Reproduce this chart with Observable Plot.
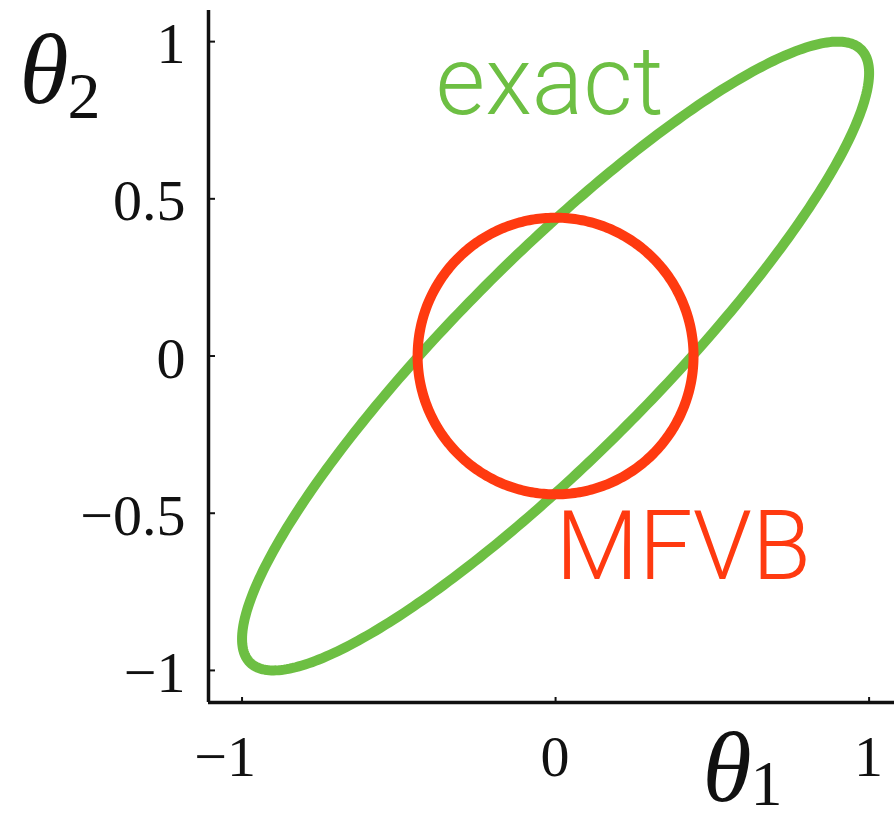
<!DOCTYPE html>
<html>
<head>
<meta charset="utf-8">
<script src="https://cdn.jsdelivr.net/npm/d3@7"></script>
<script src="https://cdn.jsdelivr.net/npm/@observablehq/plot@0.6"></script>
<style>
  body { margin: 0; background: #fff; }
</style>
</head>
<body>
<div id="chart"></div>
<script>
// Exact bivariate Gaussian posterior vs. its mean-field variational (MFVB) fit,
// each drawn as its one-standard-deviation contour.
const exactMean = [0, 0];
const exactCov = [[1, 0.9], [0.9, 1]];
const mfvbMean = [0, 0];
const mfvbSd = [0.44, 0.44];

const seriesNames = ["exact", "MFVB"];
const seriesColors = ["#6dbf43", "#ff3a10"];
const labelX = [-0.383, 0.0];
const labelY = [0.866, -0.612];

const xTicks = [-1, 0, 1];
const yTicks = [-1, -0.5, 0, 0.5, 1];
const xDomain = [-1.107, 1.081];
const yDomain = [-1.102, 1.099];

// Contour outline of a Gaussian with the given mean and covariance (via Cholesky factor).
function gaussianOutline(mean, cov, steps = 360) {
  const l11 = Math.sqrt(cov[0][0]);
  const l21 = cov[1][0] / l11;
  const l22 = Math.sqrt(cov[1][1] - l21 * l21);
  return d3.range(steps).map(i => {
    const t = (2 * Math.PI * i) / steps;
    const u = Math.cos(t), v = Math.sin(t);
    return {x: mean[0] + l11 * u, y: mean[1] + l21 * u + l22 * v};
  });
}

const exactOutline = gaussianOutline(exactMean, exactCov);
const mfvbOutline = gaussianOutline(mfvbMean, [[mfvbSd[0] ** 2, 0], [0, mfvbSd[1] ** 2]]);

const labels = seriesNames.map((name, i) => ({name, x: labelX[i], y: labelY[i], color: seriesColors[i]}));

const fmt = d => (d < 0 ? "\u2212" + Math.abs(d) : String(d));
const serif = "'Liberation Serif', 'Times New Roman', serif";
const sans = "Roboto, 'Helvetica Neue', Helvetica, Arial, sans-serif";

const width = 894, height = 821;
const margin = {top: 10, right: 0, bottom: 119, left: 208};
const frameW = width - margin.left - margin.right;
const frameH = height - margin.top - margin.bottom;

const chart = Plot.plot({
  width, height,
  marginTop: margin.top, marginRight: margin.right,
  marginBottom: margin.bottom, marginLeft: margin.left,
  x: {domain: xDomain, axis: null},
  y: {domain: yDomain, axis: null},
  marks: [
    // axis lines (left and bottom only)
    Plot.ruleX([xDomain[0]], {stroke: "#111", strokeWidth: 3.5}),
    Plot.ruleY([yDomain[0]], {stroke: "#111", strokeWidth: 3.5}),
    // short inward ticks
    Plot.ruleX(xTicks, {stroke: "#111", strokeWidth: 2, insetTop: frameH - 5}),
    Plot.ruleY(yTicks, {stroke: "#111", strokeWidth: 2, insetRight: frameW - 7}),
    // tick labels
    Plot.text(xTicks, {
      x: d => d, frameAnchor: "bottom", lineAnchor: "middle", text: fmt,
      textAnchor: "end", dx: 14, dy: 55,
      fontSize: 58, fontFamily: serif, fill: "#111"
    }),
    Plot.text(yTicks, {
      y: d => d, frameAnchor: "left", lineAnchor: "middle", text: fmt,
      textAnchor: "end", dx: -23, dy: 3,
      fontSize: 58, fontFamily: serif, fill: "#111"
    }),
    // contours
    Plot.line(exactOutline, {x: "x", y: "y", stroke: seriesColors[0], strokeWidth: 10, curve: "linear-closed"}),
    Plot.line(mfvbOutline, {x: "x", y: "y", stroke: seriesColors[1], strokeWidth: 10, curve: "linear-closed"}),
    // series labels
    Plot.text(labels, {
      x: "x", y: "y", text: "name", fill: "color",
      textAnchor: "start", lineAnchor: "middle", fontSize: 96, fontWeight: 300, fontFamily: sans
    }),
    // axis titles θ2 and θ1
    Plot.text(["\u03b8"], {frameAnchor: "top-left", lineAnchor: "middle", textAnchor: "start", dx: -189, dy: 60,
      fontSize: 100, fontStyle: "italic", fontFamily: serif, fill: "#111"}),
    Plot.text(["2"], {frameAnchor: "top-left", lineAnchor: "middle", textAnchor: "start", dx: -141, dy: 86,
      fontSize: 66, fontFamily: serif, fill: "#111"}),
    Plot.text(["\u03b8"], {frameAnchor: "bottom-left", lineAnchor: "middle", textAnchor: "start", dx: 494, dy: 66,
      fontSize: 100, fontStyle: "italic", fontFamily: serif, fill: "#111"}),
    Plot.text(["1"], {frameAnchor: "bottom-left", lineAnchor: "middle", textAnchor: "start", dx: 542, dy: 82,
      fontSize: 64, fontFamily: serif, fill: "#111"})
  ]
});

document.getElementById("chart").appendChild(chart);
</script>
</body>
</html>
